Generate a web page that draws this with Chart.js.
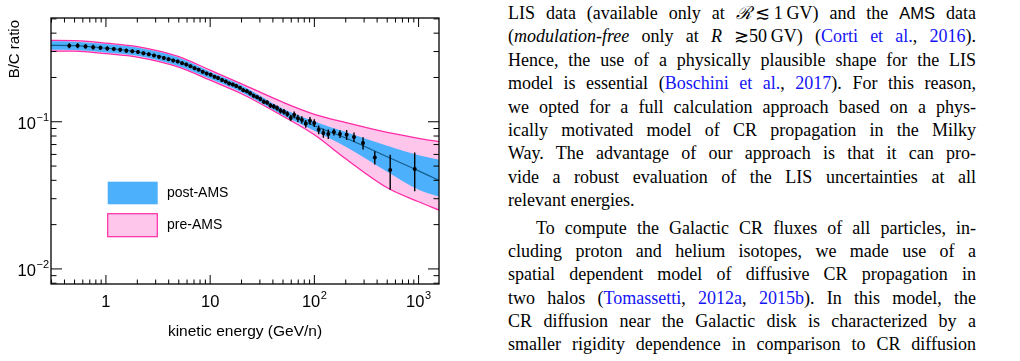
<!DOCTYPE html>
<html>
<head>
<meta charset="utf-8">
<script src="https://cdn.jsdelivr.net/npm/chart.js@4.4.1/dist/chart.umd.min.js"></script>
<style>
  html, body { margin: 0; padding: 0; background: #fff; }
  body { width: 1020px; height: 361px; position: relative; overflow: hidden; }
  #plot { position: absolute; left: 0; top: 0; }
  #text { position: absolute; left: 508px; top: 2px; width: 468px;
          font-family: "Liberation Serif", "DejaVu Serif", serif; font-size: 18px; color: #000; }
  .ln { height: 23.4px; line-height: 23.4px; text-align: justify; text-align-last: justify; }
  .ln.end { text-align-last: left; }
  .ln.par { margin-top: 4px; text-indent: 28px; }
  .cite { color: #1414f5; }
  .sf { font-family: "Liberation Sans", sans-serif; font-size: 16.5px; }
</style>
</head>
<body>
<canvas id="plot" width="460" height="361"></canvas>

<div id="text">
  <div class="ln">LIS data (available only at <i>ℛ</i>&#8201;≲&#8201;1&#8201;GV) and the <span class="sf">AMS</span> data</div>
  <div class="ln">(<i>modulation-free</i> only at <i>R</i> ≳50&#8201;GV) (<span class="cite">Corti et al.</span>, <span class="cite">2016</span>).</div>
  <div class="ln">Hence, the use of a physically plausible shape for the LIS</div>
  <div class="ln">model is essential (<span class="cite">Boschini et al.</span>, <span class="cite">2017</span>). For this reason,</div>
  <div class="ln">we opted for a full calculation approach based on a phys-</div>
  <div class="ln">ically motivated model of CR propagation in the Milky</div>
  <div class="ln">Way. The advantage of our approach is that it can pro-</div>
  <div class="ln">vide a robust evaluation of the LIS uncertainties at all</div>
  <div class="ln end">relevant energies.</div>
  <div class="ln par">To compute the Galactic CR fluxes of all particles, in-</div>
  <div class="ln">cluding proton and helium isotopes, we made use of a</div>
  <div class="ln">spatial dependent model of diffusive CR propagation in</div>
  <div class="ln">two halos (<span class="cite">Tomassetti</span>, <span class="cite">2012a</span>, <span class="cite">2015b</span>). In this model, the</div>
  <div class="ln">CR diffusion near the Galactic disk is characterized by a</div>
  <div class="ln">smaller rigidity dependence in comparison to CR diffusion</div>
</div>

<script>
////Model curves: kinetic energy grid (GeV/n) and B/C values
const modelE  = [0.29, 0.5, 1, 2, 5, 10, 20, 50, 100, 200, 500, 1000, 1600];
const modelBC = [0.330, 0.329, 0.316, 0.299, 0.256, 0.209, 0.168, 0.117, 0.094, 0.0775, 0.0578, 0.0464, 0.0397];
//post-AMS uncertainty band
const postHi  = [0.352, 0.350, 0.337, 0.319, 0.2725, 0.219, 0.177, 0.1226, 0.1005, 0.0851, 0.0687, 0.0592, 0.0551];
const postLo  = [0.309, 0.3075, 0.296, 0.281, 0.2385, 0.196, 0.1587, 0.1107, 0.0869, 0.0676, 0.0457, 0.0345, 0.0309];
//pre-AMS uncertainty band
const preHi   = [0.357, 0.356, 0.342, 0.324, 0.277, 0.224, 0.181, 0.1357, 0.1124, 0.0988, 0.0846, 0.0772, 0.0731];
const preLo   = [0.302, 0.302, 0.290, 0.275, 0.235, 0.1916, 0.155, 0.109, 0.0816, 0.056, 0.0356, 0.0286, 0.025];

////AMS B/C data points
const amsE = [0.445, 0.535, 0.637, 0.754, 0.885, 1.03, 1.19, 1.37, 1.57, 1.79,
              2.03, 2.29, 2.58, 2.89, 3.23, 3.59, 3.99, 4.42, 4.88, 5.38,
              5.90, 6.47, 7.09, 7.76, 8.48, 9.25, 10.1, 11.0, 11.9, 13.0,
              14.1, 15.2, 16.5, 17.8, 19.3, 20.8, 22.5, 24.2, 26.1, 28.2,
              30.3, 32.7, 35.2, 37.9, 40.8, 43.9, 47.3, 51.0, 55.0, 59.3,
              64.0, 69.5, 75.8, 82.7, 90.7, 99.7, 110, 122, 136, 154,
              176, 204, 240, 293, 380, 534, 918];
const amsBC = [0.329, 0.329, 0.325, 0.321, 0.318, 0.315, 0.312, 0.308, 0.304, 0.301,
               0.298, 0.292, 0.287, 0.282, 0.276, 0.271, 0.266, 0.261, 0.257, 0.250,
               0.245, 0.238, 0.231, 0.226, 0.219, 0.213, 0.209, 0.202, 0.198, 0.192,
               0.188, 0.182, 0.179, 0.175, 0.170, 0.164, 0.161, 0.156, 0.150, 0.147,
               0.143, 0.137, 0.135, 0.129, 0.127, 0.124, 0.119, 0.117, 0.113, 0.106,
               0.1116, 0.1057, 0.1032, 0.0969, 0.1016, 0.0980, 0.0882, 0.0838, 0.0825, 0.0851,
               0.0825, 0.0816, 0.0787, 0.0716, 0.0572, 0.0471, 0.0477];
const amsErr = [0.013, 0.013, 0.012, 0.012, 0.011, 0.011, 0.010, 0.010, 0.010, 0.009,
                0.009, 0.009, 0.008, 0.008, 0.008, 0.008, 0.007, 0.007, 0.007, 0.007,
                0.007, 0.006, 0.006, 0.006, 0.006, 0.006, 0.006, 0.005, 0.005, 0.005,
                0.005, 0.005, 0.005, 0.005, 0.005, 0.005, 0.005, 0.005, 0.005, 0.005,
                0.005, 0.005, 0.005, 0.005, 0.005, 0.005, 0.005, 0.005, 0.005, 0.005,
                0.006, 0.006, 0.006, 0.006, 0.006, 0.006, 0.006, 0.006, 0.006, 0.0045,
                0.005, 0.0064, 0.0058, 0.0069, 0.0059, 0.0126, 0.014];

////Axis ticks and labels
const xTickVals = [1, 10, 100, 1000];
const xTickText = ['1', '10', '10^2', '10^3'];
const yTickVals = [0.01, 0.1];
const yTickText = ['10^\u22122', '10^\u22121'];
const legendText = ['post-AMS', 'pre-AMS'];

const X_MIN = 0.297, X_MAX = 1570, Y_MIN = 0.0079, Y_MAX = 0.507;
const BLUE = '#4cb0fd';
const PINK_FILL = '#ffc6ec';
const PINK_LINE = '#ff2aa6';
const FONT = '"Liberation Sans", Arial, sans-serif';

function pts(xs, ys) {
    return xs.map((v, i) => ({x: v, y: ys[i]}));
}

//draws "10^2" style labels with a raised exponent
function drawPow(ctx, label, x, y, align) {
    let parts = label.split('^');
    ctx.font = '16.5px ' + FONT;
    let bw = ctx.measureText(parts[0]).width;
    let ew = 0;
    if (parts[1]) {
        ctx.font = '11px ' + FONT;
        ew = ctx.measureText(parts[1]).width + 0.5;
    }
    let x0 = align === 'right' ? x - bw - ew : x - (bw + ew) / 2;
    ctx.textAlign = 'left';
    ctx.textBaseline = 'alphabetic';
    ctx.font = '16.5px ' + FONT;
    ctx.fillText(parts[0], x0, y);
    if (parts[1]) {
        ctx.font = '11px ' + FONT;
        ctx.fillText(parts[1], x0 + bw + 0.5, y - 8);
    }
}

//ROOT-like frame, inward ticks, labels, legend and error bars
const rootFrame = {
    id: 'rootFrame',
    beforeDatasetDraw(chart, args) {
        if (args.index !== 0) return;
        const {ctx, scales: {x, y}} = chart;
        ctx.save();
        ctx.strokeStyle = '#000';
        ctx.lineWidth = 1.4;
        ctx.beginPath();
        amsE.forEach((e, i) => {
            let px = x.getPixelForValue(e);
            ctx.moveTo(px, y.getPixelForValue(amsBC[i] + amsErr[i]));
            ctx.lineTo(px, y.getPixelForValue(amsBC[i] - amsErr[i]));
        });
        ctx.stroke();
        ctx.restore();
    },
    afterDraw(chart) {
        const {ctx, chartArea: a, scales: {x, y}} = chart;
        ctx.save();
        ctx.strokeStyle = '#000';
        ctx.fillStyle = '#000';
        ctx.lineWidth = 1;
        ctx.beginPath();
        for (let k = -1; k <= 3; k++) {
            for (let m = 1; m <= 9; m++) {
                let v = m * Math.pow(10, k);
                if (v < X_MIN || v > X_MAX) continue;
                let px = x.getPixelForValue(v);
                let len = m === 1 ? 9 : 4.5;
                ctx.moveTo(px, a.bottom); ctx.lineTo(px, a.bottom - len);
                ctx.moveTo(px, a.top); ctx.lineTo(px, a.top + len);
            }
        }
        for (let k = -3; k <= 0; k++) {
            for (let m = 1; m <= 9; m++) {
                let v = m * Math.pow(10, k);
                if (v < Y_MIN || v > Y_MAX) continue;
                let py = y.getPixelForValue(v);
                let len = m === 1 ? 11 : 5.5;
                ctx.moveTo(a.left, py); ctx.lineTo(a.left + len, py);
                ctx.moveTo(a.right, py); ctx.lineTo(a.right - len, py);
            }
        }
        ctx.stroke();
        ctx.lineWidth = 1.3;
        ctx.strokeRect(a.left, a.top, a.right - a.left, a.bottom - a.top);

        //tick labels
        xTickVals.forEach((v, i) => drawPow(ctx, xTickText[i], x.getPixelForValue(v), a.bottom + 22.7, 'center'));
        yTickVals.forEach((v, i) => drawPow(ctx, yTickText[i], a.left - 2, y.getPixelForValue(v) + 7, 'right'));

        //axis titles
        ctx.font = '15.5px ' + FONT;
        ctx.textAlign = 'center';
        ctx.textBaseline = 'middle';
        ctx.fillText('kinetic energy (GeV/n)', (a.left + a.right) / 2, a.bottom + 47.5);
        ctx.save();
        ctx.translate(15, a.top + 2);
        ctx.rotate(-Math.PI / 2);
        ctx.font = '15px ' + FONT;
        ctx.textAlign = 'right';
        ctx.fillText('B/C ratio', 0, 0);
        ctx.restore();

        //legend
        let lx = a.left + 56.7;
        ctx.fillStyle = BLUE;
        ctx.fillRect(lx, a.top + 163.7, 50, 22.6);
        ctx.fillStyle = PINK_FILL;
        ctx.fillRect(lx, a.top + 195.7, 49.6, 23);
        ctx.strokeStyle = PINK_LINE;
        ctx.lineWidth = 1.2;
        ctx.strokeRect(lx, a.top + 195.7, 49.6, 23);
        ctx.fillStyle = '#000';
        ctx.font = '14px ' + FONT;
        ctx.textAlign = 'left';
        ctx.textBaseline = 'middle';
        ctx.fillText(legendText[0], a.left + 116, a.top + 175.3);
        ctx.fillText(legendText[1], a.left + 116, a.top + 207);
        ctx.restore();
    }
};

var ctx = document.getElementById('plot').getContext('2d');
var bcChart = new Chart(ctx, {
    type: 'line',
    data: {
        datasets: [{
            label: 'AMS data',
            data: pts(amsE, amsBC),
            showLine: false,
            pointRadius: 2,
            pointBackgroundColor: '#000',
            pointBorderWidth: 0,
            order: 0
        }, {
            label: 'model',
            data: pts(modelE, modelBC),
            borderColor: '#145d8a',
            borderWidth: 1.2,
            pointRadius: 0,
            cubicInterpolationMode: 'monotone',
            order: 1
        }, {
            label: 'pre-AMS upper',
            data: pts(modelE, preHi),
            borderColor: PINK_LINE,
            borderWidth: 1.3,
            pointRadius: 0,
            cubicInterpolationMode: 'monotone',
            order: 2
        }, {
            label: 'pre-AMS lower',
            data: pts(modelE, preLo),
            borderColor: PINK_LINE,
            borderWidth: 1.3,
            pointRadius: 0,
            cubicInterpolationMode: 'monotone',
            order: 2
        }, {
            label: 'post-AMS',
            data: pts(modelE, postHi),
            borderColor: 'rgba(0,0,0,0)',
            borderWidth: 0,
            backgroundColor: BLUE,
            fill: 5,
            pointRadius: 0,
            cubicInterpolationMode: 'monotone',
            order: 3
        }, {
            label: 'post-AMS lower',
            data: pts(modelE, postLo),
            borderColor: 'rgba(0,0,0,0)',
            borderWidth: 0,
            pointRadius: 0,
            cubicInterpolationMode: 'monotone',
            order: 3
        }, {
            label: 'pre-AMS',
            data: pts(modelE, preHi),
            borderColor: 'rgba(0,0,0,0)',
            borderWidth: 0,
            backgroundColor: PINK_FILL,
            fill: 3,
            pointRadius: 0,
            cubicInterpolationMode: 'monotone',
            order: 4
        }]
    },
    options: {
        responsive: false,
        animation: false,
        devicePixelRatio: 1,
        layout: { padding: { left: 51, right: 21, top: 18, bottom: 77 } },
        scales: {
            x: { type: 'logarithmic', min: X_MIN, max: X_MAX, display: false },
            y: { type: 'logarithmic', min: Y_MIN, max: Y_MAX, display: false }
        },
        plugins: {
            legend: { display: false },
            tooltip: { enabled: false }
        }
    },
    plugins: [rootFrame]
});
</script>
</body>
</html>
